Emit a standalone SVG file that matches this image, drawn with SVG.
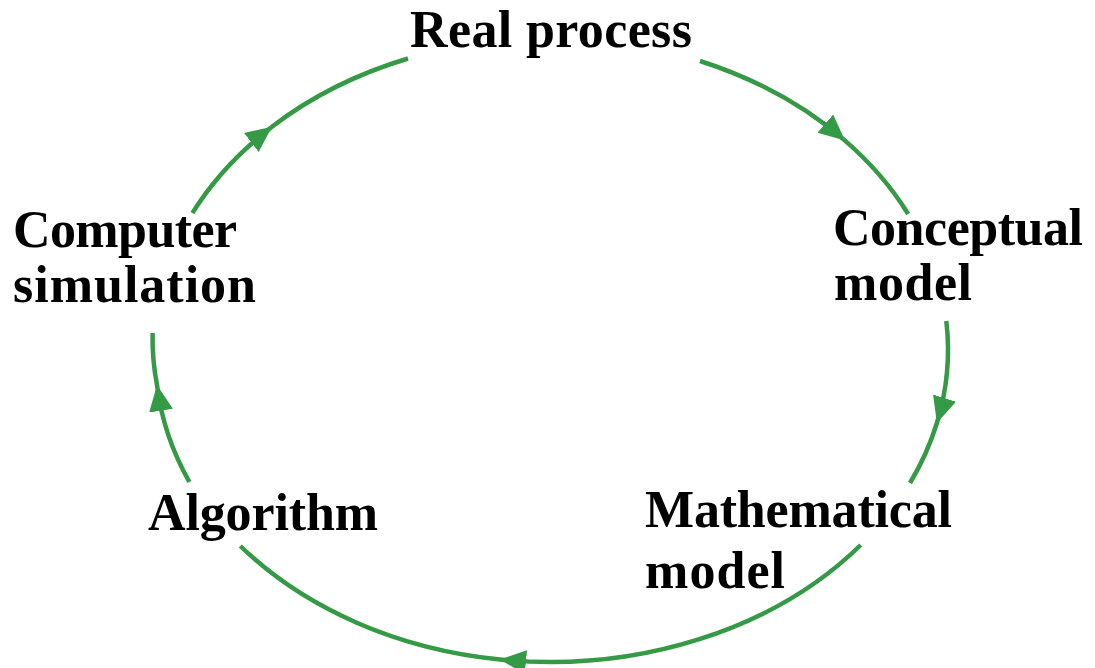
<svg xmlns="http://www.w3.org/2000/svg" width="1095" height="668" viewBox="0 0 1095 668">
<style>
.lbl{font-family:"Liberation Serif","Times New Roman",serif;font-weight:bold;font-size:52px;fill:#000}
.arc{fill:none;stroke:#349a45;stroke-width:4.5;marker-mid:url(#ah)}
</style>
<defs>
<marker id="ah" markerUnits="userSpaceOnUse" markerWidth="30" markerHeight="26" refX="26" refY="12" orient="auto" viewBox="0 0 30 26">
<path d="M0,0 L26,12 L0,24 Z" fill="#349a45"/>
</marker>
</defs>
<rect width="1095" height="668" fill="#fff"/>
<g id="connectors">
<path class="arc" d="M700,61 A398,312 0 0 1 845,140.6 A398,312 0 0 1 908.2,214"/>
<path class="arc" d="M946.3,321 A398,312 0 0 1 936.9,423 A398,312 0 0 1 910,483"/>
<path class="arc" d="M860.7,545 A398,312 0 0 1 500,659.5 A398,312 0 0 1 240.3,546"/>
<path class="arc" d="M189.4,482 A398,312 0 0 1 157,385 A398,312 0 0 1 152.6,333"/>
<path class="arc" d="M192.4,213 A398,312 0 0 1 272,126.7 A398,312 0 0 1 408,58.5"/>
</g>
<g id="real-process"><text class="lbl" x="410" y="47" textLength="282">Real process</text></g>
<g id="conceptual-model"><text class="lbl" x="833" y="245" textLength="250">Conceptual</text><text class="lbl" x="834" y="300" textLength="138">model</text></g>
<g id="mathematical-model"><text class="lbl" x="645" y="527" textLength="307">Mathematical</text><text class="lbl" x="645" y="588" textLength="140">model</text></g>
<g id="algorithm"><text class="lbl" x="148" y="530" textLength="230">Algorithm</text></g>
<g id="computer-simulation"><text class="lbl" x="13" y="247" textLength="224">Computer</text><text class="lbl" x="13" y="302" textLength="243">simulation</text></g>
</svg>
